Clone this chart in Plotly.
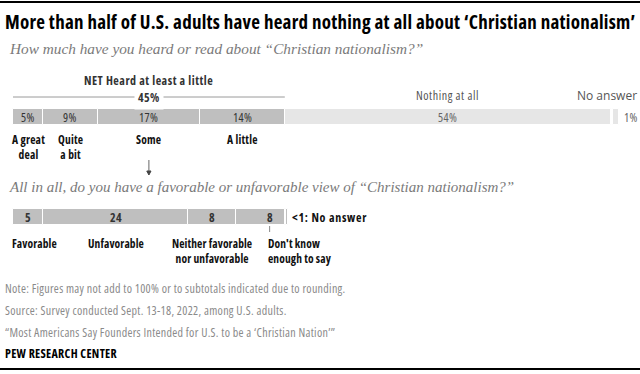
import plotly.graph_objects as go
import numpy as np

# ---- data ----
heard_cats = ["A great deal", "Quite a bit", "Some", "A little", "Nothing at all", "No answer"]
heard_vals = [5, 9, 17, 14, 54, 1]
heard_labels = ["5%", "9%", "17%", "14%", "54%", "1%"]
net_heard = 45

view_cats = ["Favorable", "Unfavorable", "Neither favorable<br>nor unfavorable", "Don't know<br>enough to say", "No answer"]
view_vals = [5, 24, 8, 8, 0.4]
view_labels = ["5", "24", "8", "8", "<1"]

W, H = 640, 374
X0 = 13          # pixel where 0% starts
SCALE = 6.04     # pixels per percentage point
Y_TOP, Y_BOT = 117, 217
BAR_H = 16

DARK = "#bfbfbf"
LIGHT = "#e6e6e6"
FONT = "Open Sans, Roboto, Arial"
SERIF = "Liberation Serif, DejaVu Serif, Georgia"

def cond(t, ls=0.0, s=75):
    return '<span style="font-stretch:%d%%;letter-spacing:%.2fpx">' % (s, ls) + t + '</span>'

fig = go.Figure()

heard_colors = [DARK, DARK, DARK, DARK, LIGHT, LIGHT]
for i, (c, v) in enumerate(zip(heard_cats, heard_vals)):
    fig.add_trace(go.Bar(
        y=[Y_TOP], x=[v], base=[sum(heard_vals[:i]) + (0.3 if c == "No answer" else 0)],
        orientation="h", width=BAR_H, marker=dict(color=heard_colors[i], line=dict(color="white", width=1)),
        name=c, showlegend=False, hoverinfo="skip"))

for i, (c, v) in enumerate(zip(view_cats, view_vals)):
    fig.add_trace(go.Bar(
        y=[Y_BOT], x=[v], base=[sum(view_vals[:i]) + (0.15 if c == "No answer" else 0)],
        orientation="h", width=BAR_H, marker=dict(color=DARK, line=dict(color="white", width=1)),
        name=c, showlegend=False, hoverinfo="skip"))

ann = []
def A(x, y, text, xref="x", **kw):
    d = dict(x=x, y=y, xref=xref, yref="y", text=text, showarrow=False)
    d.update(kw)
    ann.append(d)

# labels inside top bar
cum = np.cumsum([0] + heard_vals)
for i, lab in enumerate(heard_labels[:5]):
    mid = (cum[i] + cum[i + 1]) / 2
    col = "#333333" if i < 4 else "#666666"
    A(mid, Y_TOP, cond(lab, 0.4), font=dict(family=FONT, size=12, color=col))
A(100.8, Y_TOP, cond(heard_labels[5], 0.4), xanchor="left", font=dict(family=FONT, size=12, color="#666666"))

# labels under top bar
under = ["A great<br>deal", "Quite<br>a bit", "Some", "A little"]
for i, lab in enumerate(under):
    mid = (cum[i] + cum[i + 1]) / 2
    A(mid, 129.5, cond("<b>%s</b>" % lab, 0.2), yanchor="top",
      font=dict(family=FONT, size=11.5, color="#111111"))
A((cum[4] + cum[5]) / 2, 95, cond("Nothing at all", 0.55), font=dict(family=FONT, size=12, color="#555555"))
A(103.7, 95, cond("No answer", 0.0, 100), xanchor="right", font=dict(family=FONT, size=12, color="#555555"))

# NET
A(net_heard / 2, 80, cond("<b>NET Heard at least a little</b>", 0.5), font=dict(family=FONT, size=12, color="#333333"))
A(net_heard / 2, 97, cond("<b>%d%%</b>" % net_heard, 0.4), bgcolor="white", borderpad=3,
  font=dict(family=FONT, size=12, color="#333333"))

# bottom bar labels
vcum = np.cumsum([0] + view_vals)
DK_SHIFT = 9
for i, lab in enumerate(view_labels[:4]):
    mid = (vcum[i] + vcum[i + 1]) / 2
    shift = DK_SHIFT if i == 3 else 0
    A(mid, Y_BOT, cond("<b>%s</b>" % lab, 0.3), xshift=shift, font=dict(family=FONT, size=12, color="#333333"))
A(vcum[5] + 0.4, Y_BOT, cond("<b>%s: No answer</b>" % view_labels[4], 0.7), xanchor="left",
  font=dict(family=FONT, size=12, color="#111111"))
for i, lab in enumerate(view_cats[:3]):
    mid = (vcum[i] + vcum[i + 1]) / 2
    shift = 6 if i == 0 else 0
    A(mid, 233.5, cond("<b>%s</b>" % lab, 0.1), yanchor="top", xshift=shift,
      font=dict(family=FONT, size=11.5, color="#111111"))
mid3 = (vcum[3] + vcum[4]) / 2
A(mid3, 233.5, cond("<b>%s</b>" % view_cats[3], 0.1), yanchor="top", xanchor="left", align="left",
  xshift=5, font=dict(family=FONT, size=11.5, color="#111111"))

# titles / texts in paper coords (pixel based)
def P(px):
    return px / W
A(P(3), 22, cond("<b>More than half of U.S. adults have heard nothing at all about ‘Christian nationalism’</b>", 0.25),
  xref="paper", xanchor="left", font=dict(family=FONT, size=19, color="#000000"))
A(P(7), 48, "<i>How much have you heard or read about “Christian nationalism?”</i>",
  xref="paper", xanchor="left", font=dict(family=SERIF, size=15.3, color="#7a7a7a"))
A(P(7), 187, "<i>All in all, do you have a favorable or unfavorable view of “Christian nationalism?”</i>",
  xref="paper", xanchor="left", font=dict(family=SERIF, size=15, color="#7a7a7a"))
notes = ["Note: Figures may not add to 100% or to subtotals indicated due to rounding.",
         "Source: Survey conducted Sept. 13-18, 2022, among U.S. adults.",
         "“Most Americans Say Founders Intended for U.S. to be a ‘Christian Nation’”"]
for k, t in enumerate(notes):
    A(P(3), 288 + 22 * k, cond(t, 0.3), xref="paper", xanchor="left",
      font=dict(family=FONT, size=12, color="#8a8a8a"))
A(P(3), 353, cond("<b>PEW RESEARCH CENTER</b>", 0.3), xref="paper", xanchor="left",
  font=dict(family=FONT, size=12, color="#000000"))

tick_x = mid3 + DK_SHIFT / SCALE
shapes = [
    dict(type="line", xref="paper", yref="y", x0=0, x1=1, y0=2, y1=2, line=dict(color="black", width=2)),
    dict(type="line", xref="paper", yref="y", x0=0, x1=1, y0=369, y1=369, line=dict(color="black", width=2)),
    dict(type="line", xref="x", yref="y", x0=0, x1=net_heard, y0=97, y1=97, line=dict(color="#9a9a9a", width=1)),
    dict(type="line", xref="x", yref="y", x0=tick_x, x1=tick_x, y0=226, y1=232, line=dict(color="#888888", width=1)),
    dict(type="line", xref="x", yref="y", x0=net_heard / 2, x1=net_heard / 2, y0=160, y1=172, line=dict(color="#666666", width=1)),
    dict(type="path", xref="x", yref="y", path="M %f 171 L %f 171 L %f 175 Z" % (net_heard / 2 - 0.35, net_heard / 2 + 0.35, net_heard / 2),
         fillcolor="#444444", line=dict(color="#444444", width=1)),
]

fig.update_layout(
    width=W, height=H, margin=dict(l=0, r=0, t=0, b=0),
    paper_bgcolor="white", plot_bgcolor="white",
    barmode="overlay", bargap=0,
    xaxis=dict(range=[-X0 / SCALE, (W - X0) / SCALE], visible=False, fixedrange=True),
    yaxis=dict(range=[H, 0], visible=False, fixedrange=True),
    annotations=ann, shapes=shapes,
)
fig.write_html("out.html", config={"displayModeBar": False},
               post_script="document.body.style.margin='0';document.body.style.overflow='hidden';")
